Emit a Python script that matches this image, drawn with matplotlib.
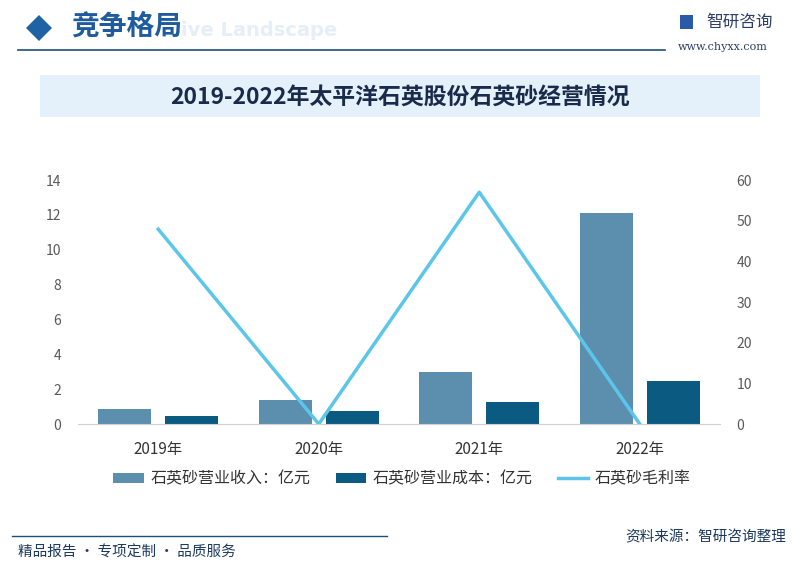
import matplotlib
matplotlib.use("Agg")
import matplotlib.pyplot as plt
import numpy as np
from matplotlib.patches import Rectangle, Polygon
from matplotlib.lines import Line2D

plt.rcParams['font.family'] = ['Noto Sans CJK SC', 'DejaVu Sans']

years = ['2019年', '2020年', '2021年', '2022年']
revenue = [0.85, 1.38, 2.97, 12.1]
cost = [0.44, 0.72, 1.26, 2.47]
margin = [47.9, 0.0, 57.0, 0.0]

c_rev = '#5b8fad'
c_cost = '#0b5a82'
c_line = '#5cc6ea'
c_tick = '#595959'

W, H = 800, 574
fig = plt.figure(figsize=(8, 5.74), dpi=100)

def fx(x): return x / W
def fy(y): return 1 - y / H

# Header
fig.patches.append(Polygon([[fx(26), fy(28)], [fx(39), fy(15)], [fx(52), fy(28)], [fx(39), fy(41)]],
                           closed=True, transform=fig.transFigure, facecolor='#1f63a6', edgecolor='none'))
fig.text(fx(181), fy(31), 'ive Landscape', fontsize=14, color='#e6eef7', fontweight='bold',
         ha='left', va='center', family=['DejaVu Sans'])
fig.text(fx(71), fy(27), '竞争格局', fontsize=20, color='#1f5c9e', fontweight='bold', ha='left', va='center')
fig.add_artist(Line2D([fx(18), fx(665)], [fy(50), fy(50)], color='#1d4f7a', lw=1.2, transform=fig.transFigure))
# logo
fig.patches.append(Rectangle((fx(680), fy(29)), 13 / W, 14 / H, transform=fig.transFigure,
                             facecolor='#2b5aa8', edgecolor='none'))
fig.text(fx(706), fy(22), '智研咨询', fontsize=12, color='#2d3f66', ha='left', va='center')
fig.text(fx(678), fy(47), 'www.chyxx.com', fontsize=8, color='#2d3f66', ha='left', va='center',
         family=['DejaVu Serif'])

# Title box
fig.patches.append(Rectangle((fx(40), fy(117)), 720 / W, 42 / H, transform=fig.transFigure,
                             facecolor='#e4f0fa', edgecolor='none'))
fig.text(fx(400), fy(97), '2019-2022年太平洋石英股份石英砂经营情况', fontsize=16.5, color='#1a2a4a',
         fontweight='bold', ha='center', va='center')

# Axes
ax = fig.add_axes([fx(78), fy(424), (720 - 78) / W, (424 - 180) / H])
x = np.arange(len(years))
bw = 0.33
ax.bar(x - 0.208, revenue, bw, color=c_rev, label='石英砂营业收入：亿元', zorder=2)
ax.bar(x + 0.208, cost, bw, color=c_cost, label='石英砂营业成本：亿元', zorder=2)
ax.set_xlim(-0.5, len(years) - 0.5)
ax.set_ylim(0, 14)
ax.set_yticks(np.arange(0, 15, 2))
ax.set_xticks(x)
ax.set_xticklabels(years)
for s in ['top', 'right', 'left']:
    ax.spines[s].set_visible(False)
ax.spines['bottom'].set_color('#d0d0d0')
ax.tick_params(axis='y', length=0, labelsize=10, colors=c_tick, pad=12)
ax.tick_params(axis='x', length=0, labelsize=11, colors='#333333', pad=12)

ax2 = ax.twinx()
ax2.plot(x, margin, color=c_line, lw=2.5, label='石英砂毛利率', zorder=3)
ax2.set_ylim(0, 60)
ax2.set_yticks(np.arange(0, 61, 10))
for s in ['top', 'right', 'left', 'bottom']:
    ax2.spines[s].set_visible(False)
ax2.tick_params(axis='y', length=0, labelsize=10, colors=c_tick, pad=12)

h1, l1 = ax.get_legend_handles_labels()
h2, l2 = ax2.get_legend_handles_labels()
fig.legend(h1 + h2, l1 + l2, loc='center', bbox_to_anchor=(fx(402), fy(479)), ncol=3, frameon=False,
           fontsize=11.5, handlelength=1.9, handleheight=0.6, columnspacing=1.6, handletextpad=0.4,
           labelcolor='#333333')

# Footer
fig.add_artist(Line2D([fx(12), fx(387)], [fy(536), fy(536)], color='#1d4f7a', lw=1.0, transform=fig.transFigure))
fig.text(fx(18), fy(553), '精品报告 · 专项定制 · 品质服务', fontsize=10.5, color='#1d3a5e', ha='left', va='center')
fig.text(fx(786), fy(537), '资料来源：智研咨询整理', fontsize=10.5, color='#1d3a5e', ha='right', va='center')

fig.savefig('out.png', dpi=100, facecolor='white')
